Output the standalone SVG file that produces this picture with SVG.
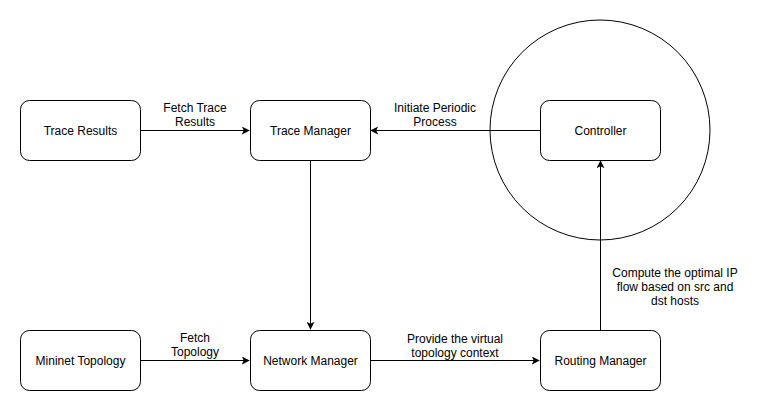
<svg xmlns="http://www.w3.org/2000/svg" width="761" height="412" viewBox="0 0 761 412">
<defs>
<style>
.box{fill:#fff;stroke:#000;stroke-width:1}
.t{font-family:"Liberation Sans",Arial,Helvetica,sans-serif;font-size:12px;fill:#000;text-anchor:middle}
.e{fill:none;stroke:#000;stroke-width:1}
</style>
<marker id="ah" viewBox="0 0 10 10" refX="9" refY="5" markerWidth="8" markerHeight="8" markerUnits="userSpaceOnUse" orient="auto">
<path d="M0,0 L10,5 L0,10 L2.5,5 Z" fill="#000"/>
</marker>
</defs>
<rect width="761" height="412" fill="#fff"/>
<g id="circle"><circle cx="600" cy="130" r="110" fill="none" stroke="#000" stroke-width="1"/></g>
<g id="connectors">
<path class="e" d="M140.5,130.5 L249,130.5" marker-end="url(#ah)"/>
<path class="e" d="M540.5,130.5 L371,130.5" marker-end="url(#ah)"/>
<path class="e" d="M310.5,160.5 L310.5,329" marker-end="url(#ah)"/>
<path class="e" d="M140.5,360.5 L249,360.5" marker-end="url(#ah)"/>
<path class="e" d="M370.5,360.5 L539,360.5" marker-end="url(#ah)"/>
<path class="e" d="M600.5,330.5 L600.5,161" marker-end="url(#ah)"/>
<text class="t" x="195" y="112">Fetch Trace</text>
<text class="t" x="195" y="126">Results</text>
<text class="t" x="435" y="112">Initiate Periodic</text>
<text class="t" x="435" y="126">Process</text>
<text class="t" x="195" y="342">Fetch</text>
<text class="t" x="195" y="356">Topology</text>
<text class="t" x="455" y="343">Provide the virtual</text>
<text class="t" x="455" y="357">topology context</text>
<text class="t" x="675" y="277">Compute the optimal IP</text>
<text class="t" x="675" y="291">flow based on src and</text>
<text class="t" x="675" y="305">dst hosts</text>
</g>
<g id="trace-results"><rect class="box" x="20.5" y="100.5" width="120" height="60" rx="9"/><text class="t" x="80.5" y="134.5">Trace Results</text></g>
<g id="trace-manager"><rect class="box" x="250.5" y="100.5" width="120" height="60" rx="9"/><text class="t" x="310.5" y="134.5">Trace Manager</text></g>
<g id="controller"><rect class="box" x="540.5" y="100.5" width="120" height="60" rx="9"/><text class="t" x="600.5" y="134.5">Controller</text></g>
<g id="mininet-topology"><rect class="box" x="20.5" y="330.5" width="120" height="60" rx="9"/><text class="t" x="80.5" y="364.5">Mininet Topology</text></g>
<g id="network-manager"><rect class="box" x="250.5" y="330.5" width="120" height="60" rx="9"/><text class="t" x="310.5" y="364.5">Network Manager</text></g>
<g id="routing-manager"><rect class="box" x="540.5" y="330.5" width="120" height="60" rx="9"/><text class="t" x="600.5" y="364.5">Routing Manager</text></g>
</svg>
